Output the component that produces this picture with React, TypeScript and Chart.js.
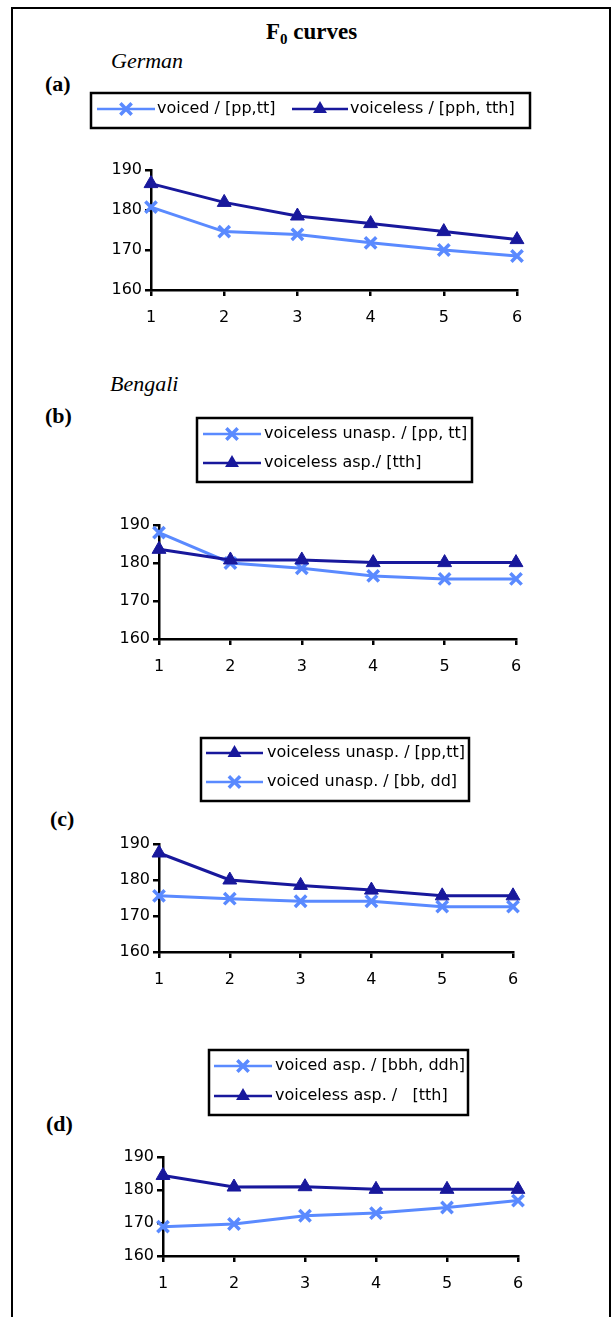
import React, { useEffect, useRef } from 'react';
import { Chart, registerables } from 'chart.js';

Chart.register(...registerables);

// ---------- data ----------
const positions = ['1', '2', '3', '4', '5', '6'];
const yTicks = [160, 170, 180, 190];

// (a) German
const germanVoiced = [180.7, 174.6, 173.9, 171.8, 170.0, 168.5];
const germanVoiceless = [186.6, 181.9, 178.5, 176.6, 174.6, 172.6];
// (b) Bengali
const bengaliVoicelessUnasp = [188.0, 180.0, 178.6, 176.6, 175.8, 175.8];
const bengaliVoicelessAsp = [183.6, 180.8, 180.8, 180.1, 180.1, 180.1];
// (c)
const cVoicelessUnasp = [187.5, 180.0, 178.5, 177.2, 175.6, 175.6];
const cVoicedUnasp = [175.6, 174.8, 174.1, 174.1, 172.6, 172.6];
// (d)
const dVoicedAsp = [168.9, 169.7, 172.2, 173.0, 174.7, 176.8];
const dVoicelessAsp = [184.4, 180.9, 181.0, 180.2, 180.2, 180.2];

const labelsA = ['voiced / [pp,tt]', 'voiceless / [pph, tth]'];
const labelsB = ['voiceless unasp. / [pp, tt]', 'voiceless asp./ [tth]'];
const labelsC = ['voiceless unasp. / [pp,tt]', 'voiced unasp. / [bb, dd]'];
const labelsD = ['voiced asp. / [bbh, ddh]', 'voiceless asp. /   [tth]'];

// ---------- styles ----------
const LIGHT = '#5a8aff';
const DARK = '#18189c';
const SANS = '"DejaVu Sans", Verdana, sans-serif';
const SERIF = '"Liberation Serif", "Times New Roman", serif';

function crossSeries(label: string, data: number[], lw: number) {
  return {
    label,
    data,
    borderColor: LIGHT,
    backgroundColor: LIGHT,
    borderWidth: lw,
    pointStyle: 'crossRot',
    pointRadius: 8,
    pointBorderWidth: 3.5,
    pointBorderColor: LIGHT,
    pointBackgroundColor: LIGHT,
    clip: false,
    tension: 0,
  };
}
function triSeries(label: string, data: number[], lw: number) {
  return {
    label,
    data,
    borderColor: DARK,
    backgroundColor: DARK,
    borderWidth: lw,
    pointStyle: 'triangle',
    pointRadius: 8,
    pointBorderWidth: 1,
    pointBorderColor: DARK,
    pointBackgroundColor: DARK,
    clip: false,
    tension: 0,
  };
}

function drawMarker(ctx: CanvasRenderingContext2D, style: string, x: number, y: number, r: number, color: string) {
  ctx.save();
  if (style === 'crossRot') {
    const d = r * Math.SQRT1_2;
    ctx.strokeStyle = color;
    ctx.lineWidth = 3.5;
    ctx.beginPath();
    ctx.moveTo(x - d, y - d);
    ctx.lineTo(x + d, y + d);
    ctx.moveTo(x + d, y - d);
    ctx.lineTo(x - d, y + d);
    ctx.stroke();
  } else {
    ctx.fillStyle = color;
    ctx.beginPath();
    ctx.moveTo(x, y - r);
    ctx.lineTo(x + 0.866 * r, y + 0.5 * r);
    ctx.lineTo(x - 0.866 * r, y + 0.5 * r);
    ctx.closePath();
    ctx.fill();
  }
  ctx.restore();
}

type LegendItem = { ds: number; x0: number; x1: number; tx: number; y: number };
type LegendCfg = { box: { x: number; y: number; w: number; h: number }; items: LegendItem[] };

function boxLegend(cfg: LegendCfg) {
  return {
    id: 'boxLegend',
    afterDraw(chart: any) {
      const ctx = chart.ctx as CanvasRenderingContext2D;
      ctx.save();
      ctx.strokeStyle = '#000';
      ctx.lineWidth = 2.5;
      ctx.strokeRect(cfg.box.x, cfg.box.y, cfg.box.w, cfg.box.h);
      ctx.font = '16px ' + SANS;
      ctx.textBaseline = 'middle';
      ctx.textAlign = 'left';
      for (const it of cfg.items) {
        const ds = chart.data.datasets[it.ds];
        ctx.strokeStyle = ds.borderColor;
        ctx.lineWidth = 2.5;
        ctx.beginPath();
        ctx.moveTo(it.x0, it.y);
        ctx.lineTo(it.x1, it.y);
        ctx.stroke();
        drawMarker(ctx, ds.pointStyle, (it.x0 + it.x1) / 2, it.y, 8, ds.borderColor);
        ctx.fillStyle = '#000';
        ctx.fillText(ds.label, it.tx, it.y);
      }
      ctx.restore();
    },
  };
}

type PanelProps = {
  top: number;
  height: number;
  padding: { left: number; right: number; top: number; bottom: number };
  datasets: any[];
  legend: LegendCfg;
};

function Panel({ top, height, padding, datasets, legend }: PanelProps) {
  const ref = useRef<HTMLCanvasElement | null>(null);
  useEffect(() => {
    if (!ref.current) return;
    const font = { family: SANS, size: 16 };
    const gridCommon = {
      drawOnChartArea: false,
      drawTicks: true,
      tickLength: 6,
      color: '#000',
      lineWidth: 2.5,
    };
    const chart = new Chart(ref.current, {
      type: 'line',
      data: { labels: positions, datasets },
      options: {
        responsive: false,
        animation: false,
        layout: { padding },
        plugins: { legend: { display: false }, tooltip: { enabled: false }, title: { display: false } },
        scales: {
          x: {
            type: 'category',
            offset: false,
            grid: gridCommon,
            border: { display: true, color: '#000', width: 2.5 },
            ticks: { color: '#000', font, padding: 12, maxRotation: 0, autoSkip: false },
            afterFit: (s: any) => {
              s.height = 40;
            },
          },
          y: {
            type: 'linear',
            min: yTicks[0],
            max: yTicks[yTicks.length - 1],
            afterBuildTicks: (s: any) => {
              s.ticks = yTicks.map((v) => ({ value: v }));
            },
            grid: gridCommon,
            border: { display: true, color: '#000', width: 2.5 },
            ticks: { color: '#000', font, padding: 3 },
            afterFit: (s: any) => {
              s.width = 60;
            },
          },
        },
      } as any,
      plugins: [boxLegend(legend)],
    });
    return () => chart.destroy();
  }, []);
  return (
    <canvas
      ref={ref}
      width={612}
      height={height}
      style={{ position: 'absolute', left: 0, top, width: 612, height }}
    />
  );
}

const txt = (left: number, top: number, size: number, extra: any, children: any) => (
  <div
    style={{
      position: 'absolute',
      left,
      top,
      fontFamily: SERIF,
      fontSize: size,
      lineHeight: 1,
      whiteSpace: 'nowrap',
      color: '#000',
      ...extra,
    }}
  >
    {children}
  </div>
);

export default function App() {
  return (
    <div
      style={{
        position: 'absolute',
        left: 0,
        top: 0,
        width: 612,
        height: 1317,
        overflow: 'hidden',
        background: '#fff',
      }}
    >
      <div
        style={{
          position: 'absolute',
          left: 11,
          top: 7,
          width: 600,
          height: 1330,
          boxSizing: 'border-box',
          border: '2px solid #000',
        }}
      />
      {txt(266, 20, 23, { fontWeight: 'bold' }, (
        <span>
          F<sub style={{ fontSize: 15, verticalAlign: -5 }}>0</sub> curves
        </span>
      ))}
      {txt(111, 50, 22, { fontStyle: 'italic' }, 'German')}
      {txt(45, 73, 22, { fontWeight: 'bold' }, '(a)')}
      {txt(110, 373, 22, { fontStyle: 'italic' }, 'Bengali')}
      {txt(45, 405, 22, { fontWeight: 'bold' }, '(b)')}
      {txt(50, 808, 22, { fontWeight: 'bold' }, '(c)')}
      {txt(46, 1113, 22, { fontWeight: 'bold' }, '(d)')}

      <Panel
        top={85}
        height={255}
        padding={{ left: 91, right: 95, top: 85, bottom: 10 }}
        datasets={[triSeries(labelsA[1], germanVoiceless, 3), crossSeries(labelsA[0], germanVoiced, 3)]}
        legend={{
          box: { x: 91, y: 8, w: 439, h: 35 },
          items: [
            { ds: 1, x0: 97, x1: 155, tx: 157, y: 24 },
            { ds: 0, x0: 292, x1: 348, tx: 350, y: 24 },
          ],
        }}
      />
      <Panel
        top={410}
        height={279}
        padding={{ left: 99, right: 96, top: 115, bottom: 10 }}
        datasets={[triSeries(labelsB[1], bengaliVoicelessAsp, 3), crossSeries(labelsB[0], bengaliVoicelessUnasp, 3)]}
        legend={{
          box: { x: 197, y: 8, w: 275, h: 64 },
          items: [
            { ds: 1, x0: 203, x1: 261, tx: 264, y: 24 },
            { ds: 0, x0: 203, x1: 261, tx: 264, y: 53 },
          ],
        }}
      />
      <Panel
        top={730}
        height={272}
        padding={{ left: 99, right: 99, top: 114, bottom: 10 }}
        datasets={[triSeries(labelsC[0], cVoicelessUnasp, 3), crossSeries(labelsC[1], cVoicedUnasp, 3)]}
        legend={{
          box: { x: 201, y: 8, w: 268, h: 63 },
          items: [
            { ds: 0, x0: 206, x1: 263, tx: 267, y: 23 },
            { ds: 1, x0: 206, x1: 263, tx: 267, y: 52 },
          ],
        }}
      />
      <Panel
        top={1042}
        height={264}
        padding={{ left: 103, right: 94, top: 115, bottom: 10 }}
        datasets={[triSeries(labelsD[1], dVoicelessAsp, 3), crossSeries(labelsD[0], dVoicedAsp, 3)]}
        legend={{
          box: { x: 209, y: 8, w: 259, h: 65 },
          items: [
            { ds: 1, x0: 214, x1: 272, tx: 275, y: 24 },
            { ds: 0, x0: 214, x1: 272, tx: 275, y: 54 },
          ],
        }}
      />
    </div>
  );
}
